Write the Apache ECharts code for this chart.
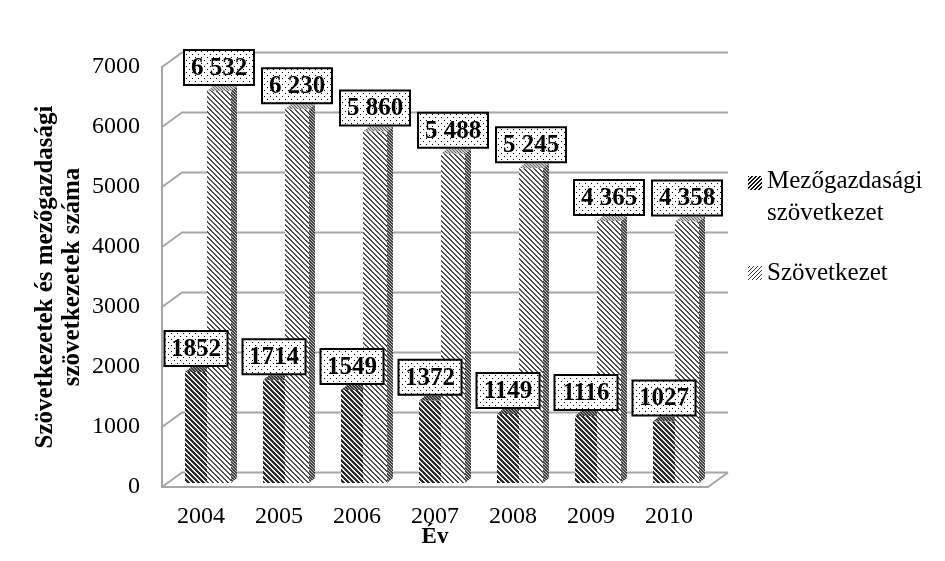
<!DOCTYPE html>
<html><head><meta charset="utf-8">
<style>html,body{margin:0;padding:0;background:#fff}#c{width:945px;height:561px}</style>
<script src="https://cdn.jsdelivr.net/npm/echarts@6/dist/echarts.min.js"></script>
</head><body><div id="c"></div>
<script>
const years = ['2004','2005','2006','2007','2008','2009','2010'];
const mezogazdasagi = [1852,1714,1549,1372,1149,1116,1027];
const szovetkezet = [6532,6230,5860,5488,5245,4365,4358];
const yTicks = [0,1000,2000,3000,4000,5000,6000,7000];
const FONT = '"Liberation Serif", "Times New Roman", serif';

function tile(p, test, fg, bg){
  const c = document.createElement('canvas'); c.width = c.height = p;
  const g = c.getContext('2d');
  g.fillStyle = bg; g.fillRect(0,0,p,p);
  g.fillStyle = fg;
  for (let x=0;x<p;x++) for (let y=0;y<p;y++) if (test(x,y)) g.fillRect(x,y,1,1);
  return {image:c, repeat:'repeat'};
}
const back = (p,k)=>(x,y)=>((x-y+p*4)%p)<k;
const fwd  = (p,k)=>(x,y)=>((x+y)%p)<k;
const P = {
  mezFront: tile(5, back(5,3), '#2a2a2a', '#ececec'),
  mezTop:   tile(3, back(3,2), '#3a3a3a', '#9a9a9a'),
  mezLeg:   tile(4, fwd(4,2), '#111', '#eee'),
  szFront:  tile(5, back(5,2), '#505050', '#ffffff'),
  szSide:   tile(3, back(3,2), '#444', '#b8b8b8'),
  szTop:    tile(3, back(3,1), '#666', '#c8c8c8'),
  szLeg:    tile(4, fwd(4,1), '#333', '#fff'),
  dots:     tile(6, (x,y)=>(x===0&&y===0)||(x===3&&y===3), '#000', '#fff')
};

const DX = 6, DY = -5, BASE = -4;
function bar3d(offL, offR, front, top, side, fmt){
  return function(params, api){
    const i = api.value(0), v = api.value(1);
    const p = api.coord([i, v]), p0 = api.coord([i, 0]);
    const band = api.size([1,0])[0];
    const xl = p[0] + band*offL, xr = p[0] + band*offR;
    const yt = p[1] + BASE, yb = p0[1] + BASE;
    const text = fmt(v);
    const w = text.length > 4 ? 70 : 63, h = 35;
    const cx = (xl + xr)/2;
    return {type:'group', children:[
      {type:'polygon', shape:{points:[[xr,yt],[xr+DX,yt+DY],[xr+DX,yb+DY],[xr,yb]]}, style:{fill:side}},
      {type:'polygon', shape:{points:[[xl,yt],[xl+DX,yt+DY],[xr+DX,yt+DY],[xr,yt]]}, style:{fill:top}},
      {type:'rect', shape:{x:xl,y:yt,width:xr-xl,height:yb-yt}, style:{fill:front}},
      {type:'rect', z2:100, shape:{x:cx-w/2,y:yt-6-h,width:w,height:h},
        style:{fill:P.dots, stroke:'#000', lineWidth:2}},
      {type:'text', z2:101, style:{text:text, x:cx, y:yt-6-h/2+1, align:'center', verticalAlign:'middle',
        fill:'#000', font:'bold 25px '+FONT}}
    ]};
  };
}
const plain = v => String(v);
const spaced = v => String(v).replace(/(\d)(\d{3})$/,'$1 $2');

const WX = 20, WY = -14.5, GRID = '#a6a6a6';
function wall(params, api){
  const t = api.value(0);
  const cs = params.coordSys;
  const y = api.coord([0,t])[1];
  const l = cs.x, r = cs.x + cs.width;
  const kids = [{type:'polyline', shape:{points:[[l,y],[l+WX,y+WY],[r+WX,y+WY]]},
    style:{stroke:GRID, lineWidth:2, fill:null}}];
  if (t === 0) kids.push({type:'line', shape:{x1:r,y1:y,x2:r+WX,y2:y+WY}, style:{stroke:GRID,lineWidth:2}});
  return {type:'group', children:kids};
}

const chart = echarts.init(document.getElementById('c'), null, {renderer:'canvas'});
chart.setOption({
  animation:false,
  backgroundColor:'#fff',
  textStyle:{fontFamily:FONT},
  grid:{left:162,right:237,top:67,bottom:74,containLabel:false,outerBoundsMode:'none'},
  legend:{
    orient:'vertical', left:743, top:160, itemGap:22, itemWidth:14, itemHeight:44, selectedMode:false,
    formatter: n => n === 'Mezőgazdasági szövetkezet' ? 'Mezőgazdasági\nszövetkezet' : n,
    textStyle:{fontFamily:FONT,fontSize:25,color:'#000',lineHeight:32,padding:[0,0,0,0]},
    data:[
      {name:'Mezőgazdasági szövetkezet', icon:'path://M0 1H14V15H0Z M0 0H0.01V0.01H0Z M0 44H0.01V44.01H0Z', itemStyle:{color:P.mezLeg}},
      {name:'Szövetkezet', icon:'path://M0 15H14V29H0Z M0 0H0.01V0.01H0Z M0 44H0.01V44.01H0Z', itemStyle:{color:P.szLeg}}
    ]
  },
  xAxis:{
    type:'category', data:years, name:'Év', nameLocation:'middle', nameGap:39, nameMoveOverlap:false,
    nameTextStyle:{fontFamily:FONT,fontSize:23,fontWeight:'bold',color:'#000'},
    axisTick:{show:false},
    axisLine:{lineStyle:{color:GRID,width:2}},
    axisLabel:{fontFamily:FONT,fontSize:24,color:'#000',margin:18}
  },
  yAxis:{
    type:'value', min:0, max:7000, interval:1000,
    name:'Szövetkezetek és mezőgazdasági\nszövetkezetek száma', nameLocation:'middle', nameGap:76, nameRotate:90, nameMoveOverlap:false,
    nameTextStyle:{fontFamily:FONT,fontSize:25,fontWeight:'bold',color:'#000',lineHeight:27},
    splitLine:{show:false},
    axisTick:{show:false},
    axisLine:{show:true,lineStyle:{color:GRID,width:2}},
    axisLabel:{fontFamily:FONT,fontSize:24,color:'#000',margin:22,formatter:v=>String(v)}
  },
  series:[
    {type:'custom', name:'_wall', silent:true, z:1, data:yTicks.map(t=>[t]), encode:{y:0}, renderItem:wall, clip:false},
    {type:'custom', name:'Mezőgazdasági szövetkezet', z:2, clip:false,
      data:mezogazdasagi.map((v,i)=>[i,v]), encode:{x:0,y:1},
      itemStyle:{color:P.mezFront},
      renderItem:bar3d(-16/78, 6/78, P.mezFront, P.mezTop, P.mezTop, plain)},
    {type:'custom', name:'Szövetkezet', z:2, clip:false,
      data:szovetkezet.map((v,i)=>[i,v]), encode:{x:0,y:1},
      itemStyle:{color:P.szFront},
      renderItem:bar3d(6/78, 30/78, P.szFront, P.szTop, P.szSide, spaced)}
  ]
});
</script></body></html>
